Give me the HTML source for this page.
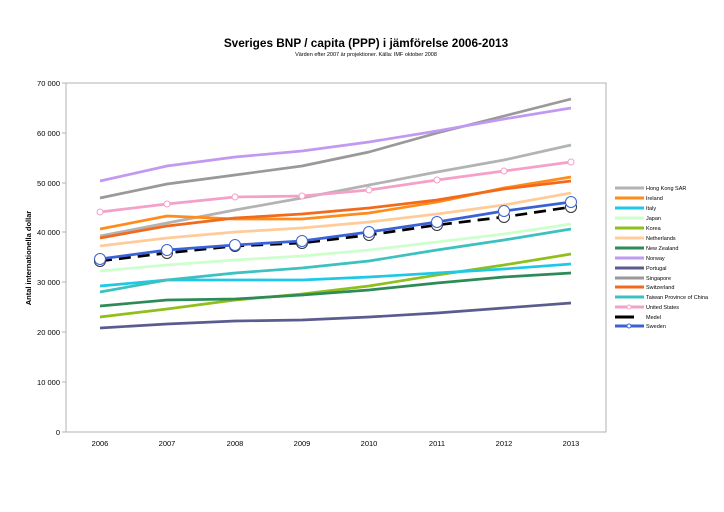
<!DOCTYPE html>
<html><head><meta charset="utf-8"><style>body{margin:0;background:#fff}svg{display:block}</style></head>
<body>
<svg width="724" height="512" xmlns="http://www.w3.org/2000/svg" font-family="Liberation Sans, sans-serif">
<text x="366" y="47" font-size="11.8" font-weight="bold" text-anchor="middle">Sveriges BNP / capita (PPP) i jämförelse 2006-2013</text>
<text x="366" y="56" font-size="5.5" text-anchor="middle">Värden efter 2007 är projektioner. Källa: IMF oktober 2008</text>
<rect x="66" y="83" width="540" height="349" fill="none" stroke="#b3b3b3" stroke-width="1"/>
<g font-size="7.5" text-anchor="end" fill="#000">
<text x="60" y="86">70 000</text><text x="60" y="136">60 000</text><text x="60" y="186">50 000</text><text x="60" y="235">40 000</text><text x="60" y="285">30 000</text><text x="60" y="335">20 000</text><text x="60" y="385">10 000</text><text x="60" y="435">0</text>
</g>
<g stroke="#b3b3b3"><line x1="62" y1="83" x2="66" y2="83"/><line x1="62" y1="133" x2="66" y2="133"/><line x1="62" y1="183" x2="66" y2="183"/><line x1="62" y1="232" x2="66" y2="232"/><line x1="62" y1="282" x2="66" y2="282"/><line x1="62" y1="332" x2="66" y2="332"/><line x1="62" y1="382" x2="66" y2="382"/><line x1="62" y1="432" x2="66" y2="432"/></g>
<g font-size="7.5" text-anchor="middle">
<text x="100" y="446">2006</text><text x="167" y="446">2007</text><text x="235" y="446">2008</text><text x="302" y="446">2009</text><text x="369" y="446">2010</text><text x="437" y="446">2011</text><text x="504" y="446">2012</text><text x="571" y="446">2013</text>
</g>
<text transform="translate(31,258) rotate(-90)" font-size="7.5" font-weight="bold" text-anchor="middle">Antal internationella dollar</text>
<g fill="none" stroke-width="2.7" stroke-linejoin="round">
<polyline stroke="#5b5b8f" points="100,328 167,324 235,321 302,320 369,317 437,313 504,308 571,303"/>
<polyline stroke="#8fbf1a" points="100,317 167,309 235,300 302,294 369,286 437,275 504,265 571,254"/>
<polyline stroke="#2e8b57" points="100,306 167,300 235,299 302,295 369,290 437,283 504,277 571,273"/>
<polyline stroke="#1ec8e8" points="100,286 167,280 235,280 302,280 369,277 437,273 504,269 571,264"/>
<polyline stroke="#3cc0c0" points="100,292 167,280 235,273 302,268 369,261 437,250 504,240 571,229"/>
<polyline stroke="#ccffcc" points="100,271 167,265 235,260 302,256 369,250 437,242 504,234 571,224"/>
<polyline stroke="#ffcc99" points="100,246 167,238 235,232 302,228 369,222 437,214 504,205 571,193"/>
<polyline stroke="#b3b3b3" points="100,236 167,223 235,210 302,198 369,185 437,172 504,160 571,145"/>
<polyline stroke="#ff8c1a" points="100,229 167,216 235,219 302,219 369,213 437,202 504,188 571,177"/>
<polyline stroke="#f26a1b" points="100,238 167,226 235,218 302,214 369,208 437,200 504,189 571,181"/>
<polyline stroke="#f4a0c8" points="100,212 167,204 235,197 302,196 369,190 437,180 504,171 571,162"/>
<polyline stroke="#999999" points="100,198 167,184 235,175 302,166 369,152 437,133 504,116 571,99"/>
<polyline stroke="#c299f0" points="100,181 167,166 235,157 302,151 369,142 437,131 504,119 571,108"/>
<polyline stroke="#000" stroke-dasharray="12,7" points="100,261 167,253 235,246 302,243 369,235 437,225 504,217 571,207"/>
<polyline stroke="#3a62d6" points="100,259 167,250 235,245 302,241 369,232 437,222 504,211 571,202"/>
</g>
<g fill="#fff" stroke="#f4a0c8" stroke-width="1"><circle cx="100" cy="212" r="3"/><circle cx="167" cy="204" r="3"/><circle cx="235" cy="197" r="3"/><circle cx="302" cy="196" r="3"/><circle cx="369" cy="190" r="3"/><circle cx="437" cy="180" r="3"/><circle cx="504" cy="171" r="3"/><circle cx="571" cy="162" r="3"/></g>
<g fill="#fff" stroke="#333" stroke-width="1"><circle cx="100" cy="261" r="5.5"/><circle cx="167" cy="253" r="5.5"/><circle cx="235" cy="246" r="5.5"/><circle cx="302" cy="243" r="5.5"/><circle cx="369" cy="235" r="5.5"/><circle cx="437" cy="225" r="5.5"/><circle cx="504" cy="217" r="5.5"/><circle cx="571" cy="207" r="5.5"/></g>
<g fill="#fff" stroke="#3a62d6" stroke-width="1"><circle cx="100" cy="259" r="5.5"/><circle cx="167" cy="250" r="5.5"/><circle cx="235" cy="245" r="5.5"/><circle cx="302" cy="241" r="5.5"/><circle cx="369" cy="232" r="5.5"/><circle cx="437" cy="222" r="5.5"/><circle cx="504" cy="211" r="5.5"/><circle cx="571" cy="202" r="5.5"/></g>
<g stroke-width="3" font-size="5.5">
<line x1="615" y1="188" x2="644" y2="188" stroke="#b3b3b3"/><text x="646" y="190" stroke="none">Hong Kong SAR</text>
<line x1="615" y1="198" x2="644" y2="198" stroke="#ff8c1a"/><text x="646" y="200" stroke="none">Ireland</text>
<line x1="615" y1="208" x2="644" y2="208" stroke="#1ec8e8"/><text x="646" y="210" stroke="none">Italy</text>
<line x1="615" y1="218" x2="644" y2="218" stroke="#ccffcc"/><text x="646" y="220" stroke="none">Japan</text>
<line x1="615" y1="228" x2="644" y2="228" stroke="#8fbf1a"/><text x="646" y="230" stroke="none">Korea</text>
<line x1="615" y1="238" x2="644" y2="238" stroke="#ffcc99"/><text x="646" y="240" stroke="none">Netherlands</text>
<line x1="615" y1="248" x2="644" y2="248" stroke="#2e8b57"/><text x="646" y="250" stroke="none">New Zealand</text>
<line x1="615" y1="258" x2="644" y2="258" stroke="#c299f0"/><text x="646" y="260" stroke="none">Norway</text>
<line x1="615" y1="268" x2="644" y2="268" stroke="#5b5b8f"/><text x="646" y="270" stroke="none">Portugal</text>
<line x1="615" y1="278" x2="644" y2="278" stroke="#999999"/><text x="646" y="280" stroke="none">Singapore</text>
<line x1="615" y1="287" x2="644" y2="287" stroke="#f26a1b"/><text x="646" y="289" stroke="none">Switzerland</text>
<line x1="615" y1="297" x2="644" y2="297" stroke="#3cc0c0"/><text x="646" y="299" stroke="none">Taiwan Province of China</text>
<line x1="615" y1="307" x2="644" y2="307" stroke="#f4a0c8"/><circle cx="629" cy="307" r="2" fill="#fff" stroke="#f4a0c8" stroke-width="1"/><text x="646" y="309" stroke="none">United States</text>
<line x1="615" y1="317" x2="634" y2="317" stroke="#000"/><text x="646" y="319" stroke="none">Medel</text>
<line x1="615" y1="326" x2="644" y2="326" stroke="#3a62d6"/><circle cx="629" cy="326" r="2" fill="#fff" stroke="#3a62d6" stroke-width="1"/><text x="646" y="328" stroke="none">Sweden</text>
</g>
</svg>
</body></html>
